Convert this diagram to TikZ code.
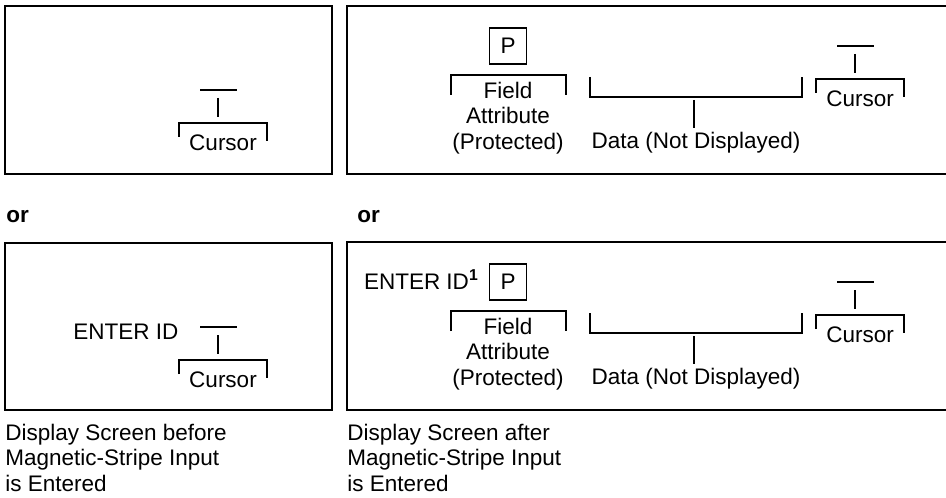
\documentclass[tikz,border=0pt]{standalone}
\usepackage{fontspec}
\setmainfont{Liberation Sans}
\usetikzlibrary{positioning,calc}
\begin{document}
\begin{tikzpicture}[x=0.025cm,y=0.025cm,
		screen/.style={line width=1.3pt},
		brk/.style={line width=1.1pt},
		lbl/.style={font=\fontsize{16}{18}\selectfont,inner sep=0pt},
		orlbl/.style={lbl,font=\fontsize{16}{18}\selectfont\bfseries},
		pbox/.style={lbl,draw,line width=1.2pt,minimum width=0.92cm,minimum height=0.9cm}
		]
		\useasboundingbox (0,0) rectangle (946,-498);

		% screens
		\draw[screen] (5,-6) rectangle (332,-174);
		\draw[screen] (946,-6) -| (347,-174) -- (946,-174);
		\draw[screen] (5,-243) rectangle (332,-410);
		\draw[screen] (946,-242) -| (347,-410) -- (946,-410);

		\node[orlbl, anchor=west](or1) at (6,-217){or};
		\node[orlbl, anchor=west](or2) at (357,-217){or};

		% cursor marks
		\foreach \i/\x/\y in {1/223/-143, 2/860/-99, 3/223/-380, 4/860/-335}{
			\node[lbl](cur\i) at (\x,\y){Cursor};
			\draw[brk] ($(cur\i)+(-44,6)$) |- ($(cur\i)+(44,20)$) -- ($(cur\i)+(44,2)$);
			\draw[brk] ($(cur\i)+(-23,53)$) -- ($(cur\i)+(14,53)$);
			\draw[brk] ($(cur\i)+(-5,45)$) -- ($(cur\i)+(-5,26)$);
		}

		\node[lbl, anchor=west](ent1) at (73,-332){ENTER ID};

		% field attribute and data, upper and lower screen
		\foreach \i/\dy in {1/0, 2/-236}{
			\node[pbox](P\i) at (508,-46+\dy){P};
			\node[lbl, align=center](fld\i) at (508,-118+\dy){Field\\Attribute\\(Protected)};
			\draw[brk] (451,-95+\dy) |- (566,-75+\dy) -- (566,-95+\dy);
			\node[lbl](dat\i) at (696,-143+\dy){Data (Not Displayed)};
			\draw[brk] (590,-77+\dy) |- (802,-97+\dy) -- (802,-77+\dy);
			\draw[brk] (694,-100+\dy) -- (694,-128+\dy);
		}
		\node[lbl, anchor=base east](ent2) at ($(P2.base west)+(-10,0)$){ENTER ID\textsuperscript{\bfseries 1}};

		% captions
		\node[lbl, anchor=north west, align=left](cap1) at (5,-424){Display Screen before\\Magnetic-Stripe Input\\is Entered};
		\node[lbl, anchor=north west, align=left](cap2) at (347,-424){Display Screen after\\Magnetic-Stripe Input\\is Entered};
	\end{tikzpicture}
\end{document}
